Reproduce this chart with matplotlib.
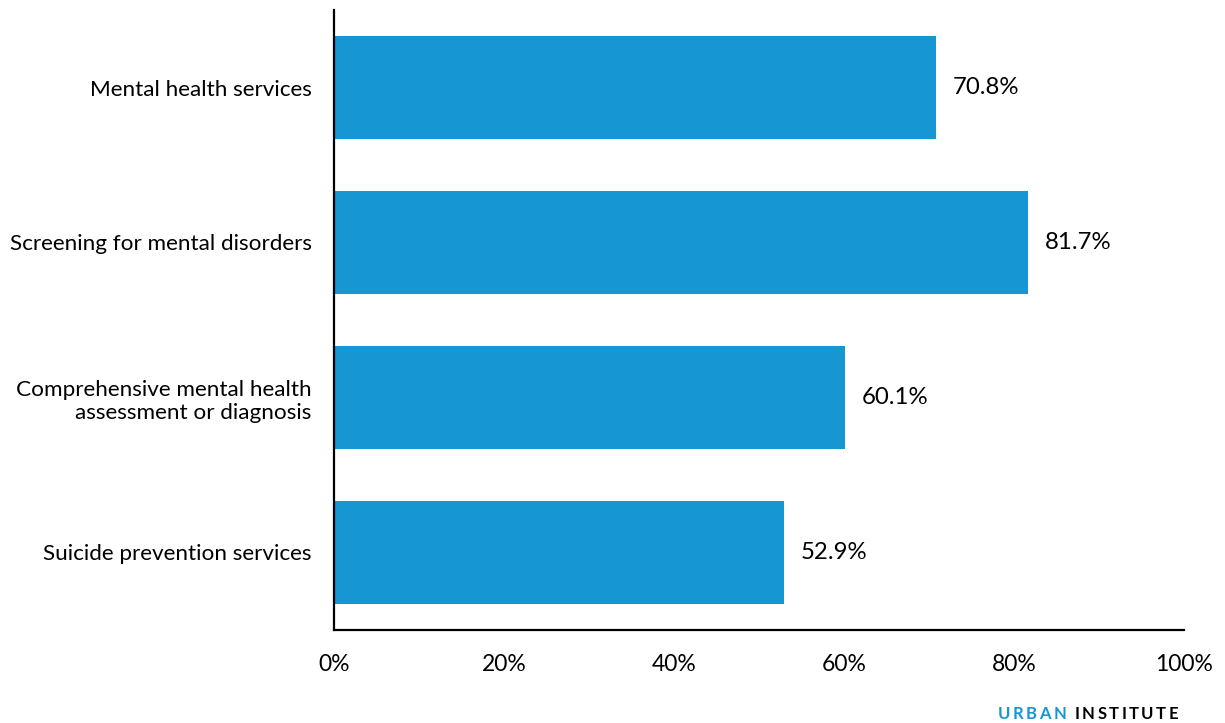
import matplotlib.pyplot as plt
import numpy as np

plt.rcParams['font.family'] = ['Lato', 'DejaVu Sans']

categories = [
    'Mental health services',
    'Screening for mental disorders',
    'Comprehensive mental health\nassessment or diagnosis',
    'Suicide prevention services',
]
values = [70.8, 81.7, 60.1, 52.9]
xticks = [0, 20, 40, 60, 80, 100]

blue = '#1696d2'
W, H = 1225, 723

fig = plt.figure(figsize=(W / 100, H / 100), dpi=100)
ax = fig.add_axes([334 / W, 1 - 630 / H, 850 / W, 620 / H])

y = np.arange(len(categories))
bars = ax.barh(y, values, height=0.665, color=blue)
for b, v in zip(bars, values):
    ax.annotate(f'{v:.1f}%', (b.get_width(), b.get_y() + b.get_height() / 2),
                xytext=(12, 0), textcoords='offset points',
                va='center', ha='left', fontsize=17.3, color='black')

ax.set_ylim(len(categories) - 0.5, -0.5)
ax.set_xlim(0, 100)
ax.set_yticks(y)
ax.set_yticklabels(categories, fontsize=16.2, ha='right', multialignment='right')
ax.set_xticks(xticks)
ax.set_xticklabels([f'{t}%' for t in xticks], fontsize=16.5)
ax.tick_params(axis='both', length=0)
ax.tick_params(axis='x', pad=17)
ax.tick_params(axis='y', pad=16)

for side in ['top', 'right']:
    ax.spines[side].set_visible(False)
for side in ['left', 'bottom']:
    ax.spines[side].set_linewidth(1.6)
    ax.spines[side].set_color('black')

# letter-spaced branding, laid out right to left from the corner
renderer = fig.canvas.get_renderer()
x = 1178
tracking = 2.4
for word, color in [('INSTITUTE', '#000000'), ('URBAN', blue)]:
    for ch in reversed(word):
        t = fig.text(x / W, 1 - 714 / H, ch, color=color, fontsize=12,
                     fontweight='bold', ha='right', va='center')
        x -= t.get_window_extent(renderer).width + tracking
    x -= 6

fig.savefig('out.png', dpi=100)
